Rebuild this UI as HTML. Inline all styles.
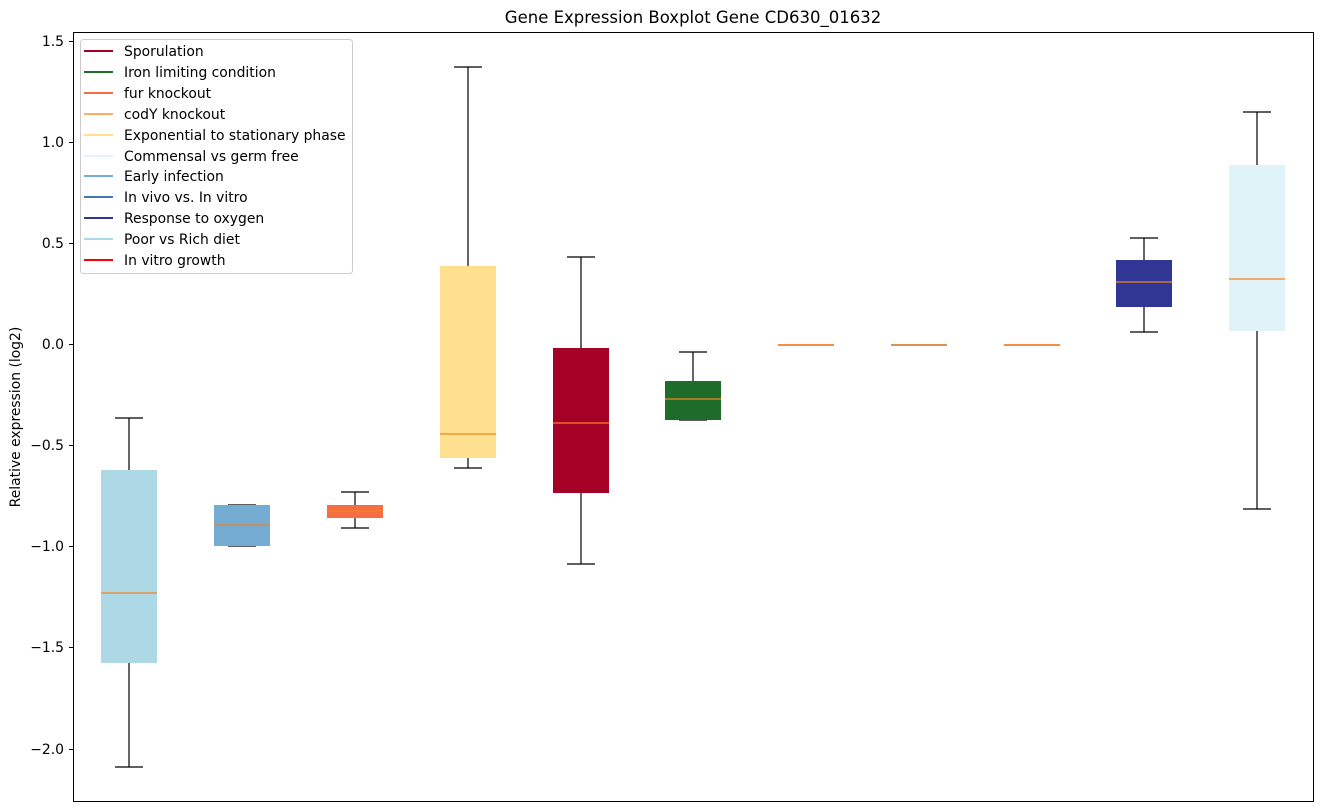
<!DOCTYPE html>
<html><head><meta charset="utf-8"><style>
html,body{margin:0;padding:0;background:#fff;}
svg{display:block;font-family:"DejaVu Sans","Liberation Sans",sans-serif;}
</style></head><body>
<svg width="1322" height="812" viewBox="0 0 1322 812" xmlns="http://www.w3.org/2000/svg">
<rect width="1322" height="812" fill="#fff"/>
<text x="693" y="23" font-size="16.5" text-anchor="middle" fill="#000">Gene Expression Boxplot Gene CD630_01632</text>
<g stroke="#000" stroke-width="1.2" fill="none">
<line x1="129" y1="418" x2="129" y2="621"/><line x1="115" y1="418" x2="143" y2="418"/>
<line x1="129" y1="663" x2="129" y2="767"/><line x1="115" y1="767" x2="143" y2="767"/>
<line x1="228" y1="505" x2="256" y2="505"/><line x1="228" y1="546" x2="256" y2="546"/>
<line x1="355" y1="492" x2="355" y2="505"/><line x1="341" y1="492" x2="369" y2="492"/>
<line x1="355" y1="518" x2="355" y2="528"/><line x1="341" y1="528" x2="369" y2="528"/>
<line x1="468" y1="67" x2="468" y2="266"/><line x1="454" y1="67" x2="482" y2="67"/>
<line x1="468" y1="458" x2="468" y2="468"/><line x1="454" y1="468" x2="482" y2="468"/>
<line x1="581" y1="257" x2="581" y2="348"/><line x1="567" y1="257" x2="595" y2="257"/>
<line x1="581" y1="493" x2="581" y2="564"/><line x1="567" y1="564" x2="595" y2="564"/>
<line x1="693" y1="352" x2="693" y2="381"/><line x1="679" y1="352" x2="707" y2="352"/>
<line x1="679" y1="420" x2="707" y2="420"/>
<line x1="1144" y1="238" x2="1144" y2="260"/><line x1="1130" y1="238" x2="1158" y2="238"/>
<line x1="1144" y1="307" x2="1144" y2="332"/><line x1="1130" y1="332" x2="1158" y2="332"/>
<line x1="1257" y1="112" x2="1257" y2="165"/><line x1="1243" y1="112" x2="1271" y2="112"/>
<line x1="1257" y1="331" x2="1257" y2="509"/><line x1="1243" y1="509" x2="1271" y2="509"/>
</g>
<rect x="101" y="470" width="56" height="193" fill="#add8e6"/>
<rect x="214" y="505" width="56" height="41" fill="#74add1"/>
<rect x="327" y="505" width="56" height="13" fill="#f46d43"/>
<rect x="440" y="266" width="56" height="192" fill="#fee090"/>
<rect x="553" y="348" width="56" height="145" fill="#a50026"/>
<rect x="665" y="381" width="56" height="39" fill="#1e6b2a"/>
<rect x="778" y="344" width="56" height="2" fill="#f4a582"/>
<rect x="891" y="344" width="56" height="2" fill="#aaaaaa"/>
<rect x="1004" y="344" width="56" height="2" fill="#f4a582"/>
<rect x="1116" y="260" width="56" height="47" fill="#313695"/>
<rect x="1229" y="165" width="56" height="166" fill="#e0f3f8"/>
<g stroke="#f58220" stroke-width="1.2">
<line x1="101" y1="593" x2="157" y2="593"/>
<line x1="214" y1="525" x2="270" y2="525"/>
<line x1="327" y1="511" x2="383" y2="511"/>
<line x1="440" y1="434" x2="496" y2="434"/>
<line x1="553" y1="423" x2="609" y2="423"/>
<line x1="665" y1="399" x2="721" y2="399"/>
<line x1="778" y1="345" x2="834" y2="345"/>
<line x1="891" y1="345" x2="947" y2="345"/>
<line x1="1004" y1="345" x2="1060" y2="345"/>
<line x1="1116" y1="282" x2="1172" y2="282"/>
<line x1="1229" y1="279" x2="1285" y2="279"/>
</g>
<rect x="73.5" y="32.5" width="1240" height="769" fill="none" stroke="#000" stroke-width="1"/>
<g stroke="#000" stroke-width="1">
<line x1="69" y1="41.5" x2="73" y2="41.5"/><line x1="69" y1="142.5" x2="73" y2="142.5"/>
<line x1="69" y1="243.5" x2="73" y2="243.5"/><line x1="69" y1="344.5" x2="73" y2="344.5"/>
<line x1="69" y1="445.5" x2="73" y2="445.5"/><line x1="69" y1="546.5" x2="73" y2="546.5"/>
<line x1="69" y1="647.5" x2="73" y2="647.5"/><line x1="69" y1="749.5" x2="73" y2="749.5"/>
</g>
<g font-size="13.9" text-anchor="end" fill="#000">
<text x="64" y="46">1.5</text><text x="64" y="147">1.0</text><text x="64" y="248">0.5</text>
<text x="64" y="349">0.0</text><text x="64" y="450">−0.5</text><text x="64" y="551">−1.0</text>
<text x="64" y="652">−1.5</text><text x="64" y="754">−2.0</text>
</g>
<text transform="translate(20,417) rotate(-90)" font-size="13.9" text-anchor="middle">Relative expression (log2)</text>
<rect x="80.5" y="39.5" width="272" height="234" rx="3" fill="#fff" fill-opacity="0.8" stroke="#ccc"/>
<g stroke-width="2">
<line x1="84" y1="51" x2="113" y2="51" stroke="#a50026"/>
<line x1="84" y1="72" x2="113" y2="72" stroke="#1e6b2a"/>
<line x1="84" y1="93" x2="113" y2="93" stroke="#f46d43"/>
<line x1="84" y1="114" x2="113" y2="114" stroke="#fdae61"/>
<line x1="84" y1="135" x2="113" y2="135" stroke="#fee090"/>
<line x1="84" y1="156" x2="113" y2="156" stroke="#e0f3f8"/>
<line x1="84" y1="176" x2="113" y2="176" stroke="#74add1"/>
<line x1="84" y1="197" x2="113" y2="197" stroke="#4575b4"/>
<line x1="84" y1="218" x2="113" y2="218" stroke="#313695"/>
<line x1="84" y1="239" x2="113" y2="239" stroke="#add8e6"/>
<line x1="84" y1="260" x2="113" y2="260" stroke="#ff0000"/>
</g>
<g font-size="13.9" fill="#000">
<text x="124" y="56">Sporulation</text>
<text x="124" y="77">Iron limiting condition</text>
<text x="124" y="98">fur knockout</text>
<text x="124" y="119">codY knockout</text>
<text x="124" y="140">Exponential to stationary phase</text>
<text x="124" y="161">Commensal vs germ free</text>
<text x="124" y="181">Early infection</text>
<text x="124" y="202">In vivo vs. In vitro</text>
<text x="124" y="223">Response to oxygen</text>
<text x="124" y="244">Poor vs Rich diet</text>
<text x="124" y="265">In vitro growth</text>
</g>
</svg>
</body></html>
